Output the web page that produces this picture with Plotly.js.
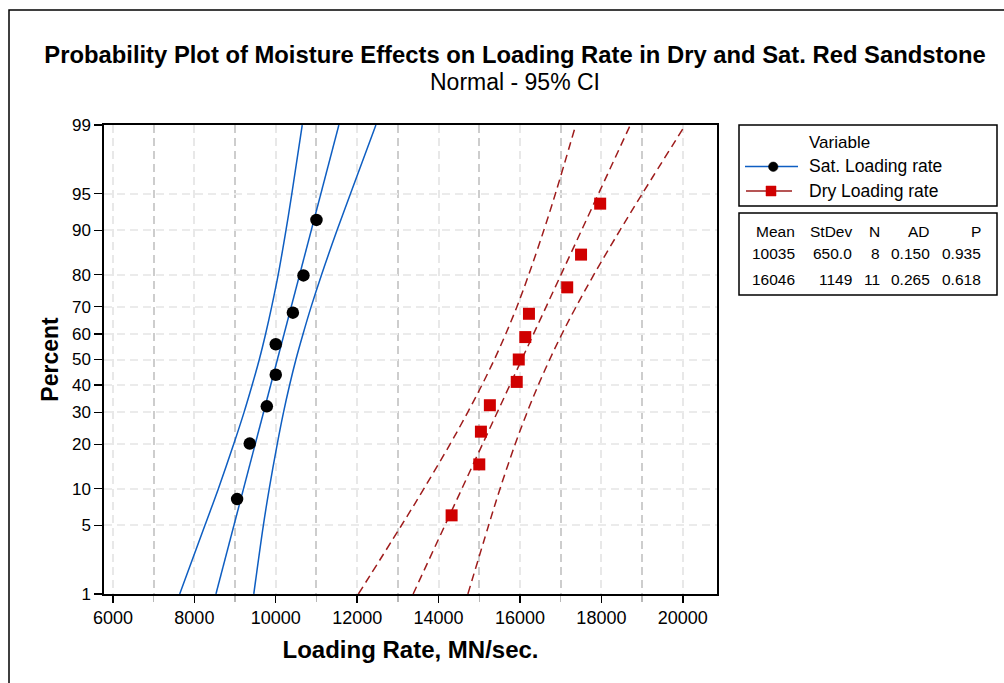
<!DOCTYPE html>
<html>
<head>
<meta charset="utf-8">
<script src="https://cdn.plot.ly/plotly-3.0.1.min.js"></script>
<style>
  html, body { margin: 0; padding: 0; background: #fff; }
  #chart { width: 1004px; height: 683px; }
</style>
</head>
<body>
<div id="chart"></div>
<script>
// Saturated specimens: plotting-position percent and loading rate (MN/sec.)
const satPercent = [8.3, 20.2, 32.1, 44.0, 56.0, 67.9, 79.8, 91.7];
const satRate = [9050, 9360, 9780, 10000, 10000, 10420, 10680, 11000];

// Dry specimens
const dryPercent = [6.1, 14.9, 23.7, 32.5, 41.2, 50.0, 58.8, 67.5, 76.3, 85.1, 93.9];
const dryRate = [14320, 15000, 15040, 15260, 15920, 15970, 16130, 16220, 17160, 17500, 17970];

// Fitted normal lines, given at the 1% and 99% levels
const fitPercent = [1, 99];
const satFit = [8530, 11550];
const dryFit = [13375, 18710];

// 95% confidence band limits at each percent level
const bandPercent = [1, 5, 10, 20, 30, 40, 50, 60, 70, 80, 90, 95, 99];
const satLower = [7640, 8260, 8590, 8965, 9220, 9420, 9595, 9750, 9900, 10060, 10250, 10395, 10650];
const satUpper = [9460, 9695, 9840, 10035, 10190, 10340, 10495, 10670, 10870, 11125, 11505, 11835, 12460];
const dryLower = [12030, 13090, 13640, 14280, 14715, 15065, 15370, 15650, 15925, 16215, 16585, 16870, 17370];
const dryUpper = [14720, 15230, 15510, 15880, 16175, 16450, 16730, 17030, 17380, 17815, 18455, 19005, 20060];

// Axis ticks
const percentTicks = [1, 5, 10, 20, 30, 40, 50, 60, 70, 80, 90, 95, 99];
const rateTicks = [6000, 8000, 10000, 12000, 14000, 16000, 18000, 20000];
const rateMinorTicks = [7000, 9000, 11000, 13000, 15000, 17000, 19000];

// Summary table
const statsHeader = ['Mean', 'StDev', 'N', 'AD', 'P'];
const satStats = ['10035', '650.0', '8', '0.150', '0.935'];
const dryStats = ['16046', '1149', '11', '0.265', '0.618'];

// Normal probability scale: percent -> standard normal quantile
function probit(pct) {
  const p = pct / 100;
  const a = [-3.969683028665376e+01, 2.209460984245205e+02, -2.759285104469687e+02,
             1.383577518672690e+02, -3.066479806614716e+01, 2.506628277459239e+00];
  const b = [-5.447609879822406e+01, 1.615858368580409e+02, -1.556989798598866e+02,
             6.680131188771972e+01, -1.328068155288572e+01];
  const c = [-7.784894002430293e-03, -3.223964580411365e-01, -2.400758277161838e+00,
             -2.549732539343734e+00, 4.374664141464968e+00, 2.938163982698783e+00];
  const d = [7.784695709041462e-03, 3.224671290700398e-01, 2.445134137142996e+00,
             3.754408661907416e+00];
  const pl = 0.02425, ph = 1 - pl;
  let q, r;
  if (p < pl) {
    q = Math.sqrt(-2 * Math.log(p));
    return (((((c[0]*q + c[1])*q + c[2])*q + c[3])*q + c[4])*q + c[5]) /
           ((((d[0]*q + d[1])*q + d[2])*q + d[3])*q + 1);
  }
  if (p <= ph) {
    q = p - 0.5; r = q * q;
    return (((((a[0]*r + a[1])*r + a[2])*r + a[3])*r + a[4])*r + a[5]) * q /
           (((((b[0]*r + b[1])*r + b[2])*r + b[3])*r + b[4])*r + 1);
  }
  q = Math.sqrt(-2 * Math.log(1 - p));
  return -(((((c[0]*q + c[1])*q + c[2])*q + c[3])*q + c[4])*q + c[5]) /
          ((((d[0]*q + d[1])*q + d[2])*q + d[3])*q + 1);
}
const z = arr => arr.map(probit);

const FONT = 'Liberation Sans, Arial, sans-serif';
const BLUE = '#0E5EC2';
const DARKRED = '#9E1C1C';
const RED = '#D00000';

const satLine = { color: BLUE, width: 1.5, shape: 'spline' };
const dryLine = { color: DARKRED, width: 1.5, dash: '8px,5px', shape: 'spline' };

const traces = [
  { x: satLower, y: z(bandPercent), mode: 'lines', line: satLine, hoverinfo: 'skip' },
  { x: satUpper, y: z(bandPercent), mode: 'lines', line: satLine, hoverinfo: 'skip' },
  { x: satFit, y: z(fitPercent), mode: 'lines', line: satLine, hoverinfo: 'skip' },
  { x: dryLower, y: z(bandPercent), mode: 'lines', line: dryLine, hoverinfo: 'skip' },
  { x: dryUpper, y: z(bandPercent), mode: 'lines', line: dryLine, hoverinfo: 'skip' },
  { x: dryFit, y: z(fitPercent), mode: 'lines', line: dryLine, hoverinfo: 'skip' },
  { x: satRate, y: z(satPercent), mode: 'markers', name: 'Sat. Loading rate',
    marker: { symbol: 'circle', size: 12.5, color: '#000' } },
  { x: dryRate, y: z(dryPercent), mode: 'markers', name: 'Dry Loading rate',
    marker: { symbol: 'square', size: 12, color: RED } }
];
traces.forEach(t => { t.type = 'scatter'; t.showlegend = false; });

// plot area in pixels: x 104..717, y 125..594
const L = 104, R = 717, T = 125, B = 594;
const px = x => (x - L) / (R - L);
const py = y => (B - y) / (B - T);

const shapes = [
  // outer frame
  { type: 'rect', xref: 'paper', yref: 'paper', x0: px(9), x1: px(1012), y0: py(692), y1: py(10),
    line: { color: '#000', width: 1.5 } },
  // legend box
  { type: 'rect', xref: 'paper', yref: 'paper', x0: px(739), x1: px(997), y0: py(206), y1: py(125),
    line: { color: '#000', width: 1.5 } },
  // summary table box
  { type: 'rect', xref: 'paper', yref: 'paper', x0: px(739), x1: px(997), y0: py(295), y1: py(213),
    line: { color: '#000', width: 1.5 } },
  // legend symbols
  { type: 'line', xref: 'paper', yref: 'paper', x0: px(745), x1: px(798), y0: py(166.5), y1: py(166.5),
    line: { color: BLUE, width: 1.5 } },
  { type: 'circle', xref: 'paper', yref: 'paper', x0: px(768.5), x1: px(778), y0: py(171.5), y1: py(162),
    fillcolor: '#000', line: { color: '#000', width: 0.5 } },
  { type: 'line', xref: 'paper', yref: 'paper', x0: px(746), x1: px(792), y0: py(191), y1: py(191),
    line: { color: DARKRED, width: 1.5 } },
  { type: 'rect', xref: 'paper', yref: 'paper', x0: px(766), x1: px(776), y0: py(196), y1: py(186),
    fillcolor: RED, line: { color: RED, width: 0.5 } }
];

const annotations = [
  { text: 'Normal - 95% CI', x: px(515), y: py(82), xanchor: 'center', yanchor: 'middle',
    font: { size: 23, family: FONT, color: '#000' } },
  { text: 'Variable', x: px(807), y: py(142.5), xanchor: 'left', yanchor: 'middle',
    font: { size: 17, family: FONT, color: '#000' } },
  { text: 'Sat. Loading rate', x: px(807), y: py(166.5), xanchor: 'left', yanchor: 'middle',
    font: { size: 17.5, family: FONT, color: '#000' } },
  { text: 'Dry Loading rate', x: px(807), y: py(191), xanchor: 'left', yanchor: 'middle',
    font: { size: 17.5, family: FONT, color: '#000' } }
];
const colRight = [797, 854, 882, 932, 983];
[[statsHeader, 231], [satStats, 253], [dryStats, 279]].forEach(([row, yy]) => {
  row.forEach((txt, i) => {
    annotations.push({ text: txt, x: px(colRight[i]), y: py(yy), xanchor: 'right', yanchor: 'middle',
      font: { size: 15.5, family: FONT, color: '#000' } });
  });
});
annotations.forEach(a => { a.xref = 'paper'; a.yref = 'paper'; a.showarrow = false; });

const eps = 0.0005;
const layout = {
  width: 1004, height: 683,
  margin: { l: L, r: 1004 - R, t: T, b: 683 - B, pad: 0 },
  paper_bgcolor: '#fff', plot_bgcolor: '#fff',
  font: { family: FONT, color: '#000' },
  title: {
    text: '<b>Probability Plot of Moisture Effects on Loading Rate in Dry and Sat. Red Sandstone</b>',
    font: { size: 23.8, family: FONT, color: '#000' },
    x: 515 / 1004, xanchor: 'center', xref: 'container',
    y: 1 - 55 / 683, yanchor: 'middle', yref: 'container'
  },
  xaxis: {
    range: [5780, 20840],
    tickvals: rateTicks, ticktext: rateTicks.map(String),
    ticks: 'outside', ticklen: 7, tickwidth: 1.4, tickcolor: '#000',
    tickfont: { size: 18, family: FONT, color: '#000' },
    showline: true, linecolor: '#000', linewidth: 1.6, mirror: true,
    showgrid: true, gridcolor: '#e8e8e8', gridwidth: 2, griddash: '8px,5px',
    minor: { tickmode: 'array', tickvals: rateMinorTicks, showgrid: true, gridcolor: '#cdcdcd', gridwidth: 2,
             griddash: '8px,5px', ticks: 'outside', ticklen: 6, tickcolor: '#b8b8b8' },
    zeroline: false,
    title: { text: '<b>Loading Rate, MN/sec.</b>', font: { size: 24, family: FONT, color: '#000' }, standoff: 14 }
  },
  yaxis: {
    range: [probit(1) - eps, probit(99) + eps],
    tickvals: z(percentTicks), ticktext: percentTicks.map(String),
    ticks: 'outside', ticklen: 8, tickwidth: 1.4, tickcolor: '#000',
    tickfont: { size: 17, family: FONT, color: '#000' },
    showline: true, linecolor: '#000', linewidth: 1.6, mirror: true,
    showgrid: true, gridcolor: '#ebebeb', gridwidth: 2, griddash: '8px,5px',
    zeroline: false,
    title: { text: '<b>Percent</b>', font: { size: 23, family: FONT, color: '#000' }, standoff: 7 }
  },
  shapes: shapes,
  annotations: annotations,
  showlegend: false
};

Plotly.newPlot('chart', traces, layout, { staticPlot: true, displayModeBar: false });
</script>
</body>
</html>
